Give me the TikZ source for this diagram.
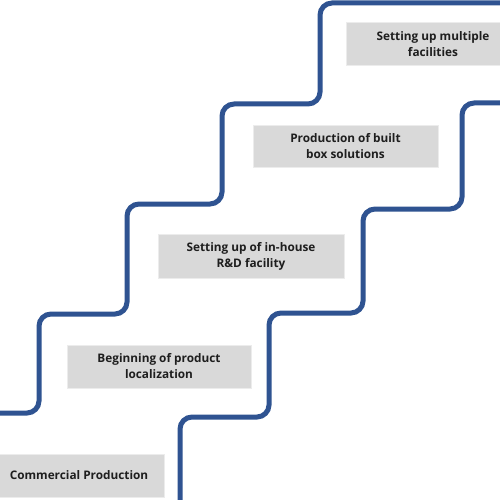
\documentclass[tikz,border=0pt]{standalone}
\usepackage{fontspec}
\setmainfont{Open Sans}
\definecolor{stairblue}{HTML}{2F5391}
\definecolor{boxgray}{HTML}{D9D9D9}
\definecolor{boxedge}{HTML}{ECECEC}
\definecolor{txt}{HTML}{1E1E1E}
\begin{document}
\begin{tikzpicture}[x=1pt,y=-1pt,
  stair/.style={draw=stairblue,line width=5pt,rounded corners=12pt},
  stepbox/.style={rectangle,fill=boxgray,draw=boxedge,line width=1pt,inner sep=0pt,
    align=center,font=\fontsize{11.8}{16}\selectfont\bfseries,text=txt}]
\useasboundingbox (0,0) rectangle (500,500);
\clip (0,0) rectangle (500,500);
\fill[white] (0,0) rectangle (500,500);
\draw[stair] (-10,413) -- (39,413) -- (39,314) -- (127,314) -- (127,204) -- (222,204) -- (222,104) -- (320,104) -- (320,3) -- (510,3);
\draw[stair] (180,510) -- (180,417) -- (269,417) -- (269,313) -- (363,313) -- (363,209) -- (462,209) -- (462,103) -- (510,103);
\node[stepbox,minimum width=170pt,minimum height=43pt] (b1) at (79,475.5) {Commercial Production};
\node[stepbox,minimum width=184pt,minimum height=43pt] (b2) at (159,366.5) {Beginning of product\\localization};
\node[stepbox,minimum width=186pt,minimum height=44pt] (b3) at (251,256) {Setting up of in-house\\R\&D facility};
\node[stepbox,minimum width=185pt,minimum height=42pt] (b4) at (345.5,146) {Production of built\\box solutions};
\node[stepbox,minimum width=174pt,minimum height=43pt] (b5) at (433,44.5) {Setting up multiple\\facilities};
\end{tikzpicture}
\end{document}
